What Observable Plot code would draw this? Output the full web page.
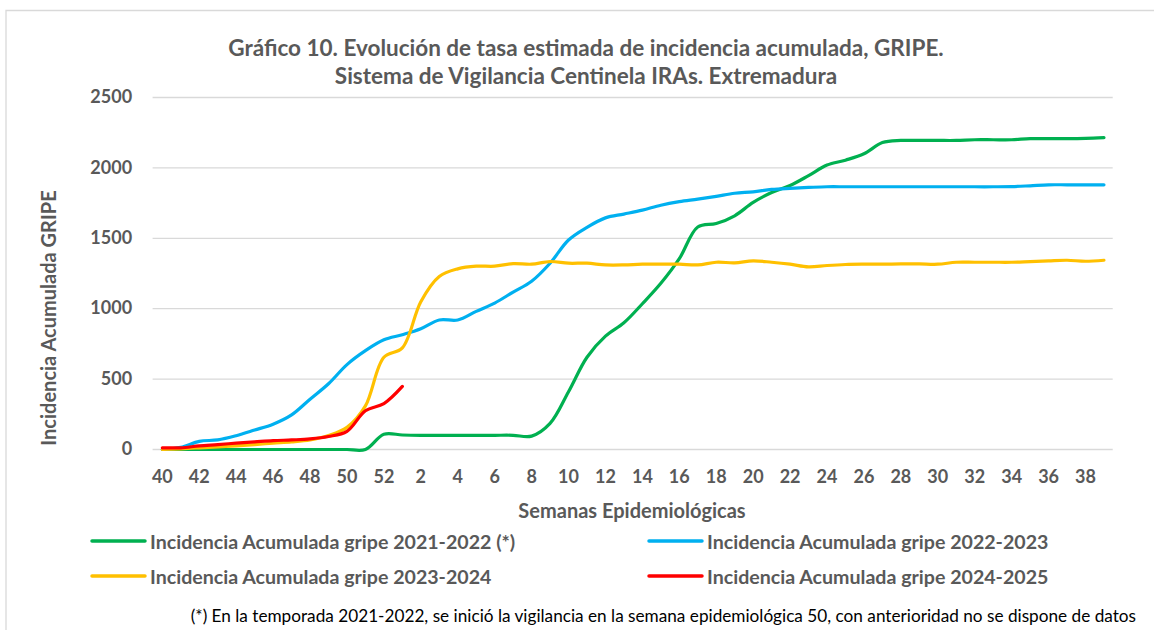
<!DOCTYPE html>
<html>
<head>
<meta charset="utf-8">
<script src="https://cdn.jsdelivr.net/npm/d3@7"></script>
<script src="https://cdn.jsdelivr.net/npm/@observablehq/plot@0.6"></script>
<style>
  html, body { margin: 0; padding: 0; background: #fff; }
  #chart { width: 1154px; height: 630px; }
</style>
</head>
<body>
<div id="chart"></div>
<script>
// Epidemiological weeks (season runs from week 40 to week 39)
const weeks = [40,41,42,43,44,45,46,47,48,49,50,51,52,1,2,3,4,5,6,7,8,9,10,11,12,13,14,15,16,17,18,19,20,21,22,23,24,25,26,27,28,29,30,31,32,33,34,35,36,37,38,39];

const ia2122 = [0,0,0,0,0,0,0,0,0,0,0,0,108,103,101,101,101,101,101,101,95,185,410,655,805,900,1035,1180,1355,1580,1605,1660,1755,1825,1875,1945,2020,2055,2100,2180,2195,2195,2195,2195,2200,2200,2200,2208,2208,2208,2210,2215];
const ia2223 = [0,15,58,68,98,138,180,246,357,467,603,702,779,815,858,920,920,981,1040,1118,1195,1323,1488,1578,1645,1672,1700,1735,1760,1778,1798,1820,1830,1847,1855,1861,1866,1866,1866,1866,1866,1866,1866,1866,1866,1866,1867,1873,1880,1880,1880,1880];
const ia2324 = [0,5,12,19,26,35,45,54,68,99,157,310,655,722,1050,1229,1283,1302,1302,1320,1316,1335,1323,1323,1311,1311,1316,1316,1316,1311,1330,1326,1340,1330,1316,1297,1307,1314,1316,1316,1318,1318,1316,1330,1330,1330,1330,1335,1340,1344,1337,1344];
const ia2425 = [12,12,26,35,45,54,63,68,75,92,129,275,326,448];

const seriesNames = [
  "Incidencia Acumulada gripe 2021-2022 (*)",
  "Incidencia Acumulada gripe 2022-2023",
  "Incidencia Acumulada gripe 2023-2024",
  "Incidencia Acumulada gripe 2024-2025"
];
const seriesColors = ["#00B050", "#00B0F0", "#FFC000", "#FF0000"];
const yTicks = [0, 500, 1000, 1500, 2000, 2500];
const xTickIndex = weeks.map((w, i) => i).filter(i => i % 2 === 0);

const titleLines = [
  "Gráfico 10. Evolución de tasa estimada de incidencia acumulada, GRIPE.",
  "Sistema de Vigilancia Centinela IRAs. Extremadura"
];
const xTitle = "Semanas Epidemiológicas";
const yTitle = "Incidencia Acumulada GRIPE";
const footnote = "(*) En la temporada 2021-2022, se inició la vigilancia en la semana epidemiológica 50, con anterioridad no se dispone de datos";

const allSeries = [ia2122, ia2223, ia2324, ia2425];
const rows = [];
allSeries.forEach((vals, s) => {
  vals.forEach((v, i) => rows.push({i, week: weeks[i], value: v, series: seriesNames[s]}));
});

const TEXT = "#595959";
const FONT = "Lato, 'Open Sans', sans-serif";

const plot = Plot.plot({
  width: 1154,
  height: 630,
  marginLeft: 152.6,
  marginRight: 41.3,
  marginTop: 97,
  marginBottom: 181,
  style: {fontFamily: FONT, fontSize: "18px", fontWeight: "bold", color: TEXT, background: "#fff"},
  x: {type: "linear", domain: [-0.5, weeks.length - 0.5]},
  y: {domain: [0, 2500]},
  color: {domain: seriesNames, range: seriesColors},
  marks: [
    Plot.gridY(yTicks, {stroke: "#d9d9d9", strokeOpacity: 1, strokeWidth: 1.3}),
    Plot.axisY(yTicks, {tickSize: 0, tickPadding: 21, label: null, tickFormat: d => String(d)}),
    Plot.axisX(xTickIndex, {tickSize: 0, tickPadding: 21, label: null, tickFormat: i => String(weeks[i])}),
    Plot.line(rows, {x: "i", y: "value", z: "series", stroke: "series", strokeWidth: 3.2, curve: "catmull-rom", strokeLinecap: "round", strokeLinejoin: "round"})
  ]
});

document.getElementById("chart").appendChild(plot);

const svg = d3.select(plot);

// outer chart-area frame (top and left edges visible)
svg.append("path")
  .attr("d", "M6,630V10.5H1154")
  .attr("fill", "none")
  .attr("stroke", "#d9d9d9")
  .attr("stroke-width", 1.3);

function addText(x, y, str, size, weight, anchor, fill) {
  return svg.append("text")
    .attr("x", x).attr("y", y)
    .attr("text-anchor", anchor).attr("dominant-baseline", "central")
    .attr("font-family", FONT).attr("font-size", size).attr("font-weight", weight)
    .attr("fill", fill).text(str);
}

// title
titleLines.forEach((t, k) => addText(586, 47 + k * 28, t, 22.5, "bold", "middle", TEXT));

// axis titles
addText(632, 510, xTitle, 20, "bold", "middle", TEXT);
addText(0, 0, yTitle, 20, "bold", "middle", TEXT)
  .attr("transform", "translate(48,318) rotate(-90)");

// legend
const legX = [92, 649];
const legY = [541, 576];
seriesNames.forEach((name, k) => {
  const col = k % 2, row = Math.floor(k / 2);
  svg.append("line")
    .attr("x1", legX[col]).attr("x2", legX[col] + 53)
    .attr("y1", legY[row]).attr("y2", legY[row])
    .attr("stroke", seriesColors[k]).attr("stroke-width", 3.5).attr("stroke-linecap", "round");
  addText(legX[col] + 58, legY[row], name, 19.6, "bold", "start", TEXT);
});

// footnote
addText(1136, 615, footnote, 17.2, "normal", "end", "#000");
</script>
</body>
</html>
